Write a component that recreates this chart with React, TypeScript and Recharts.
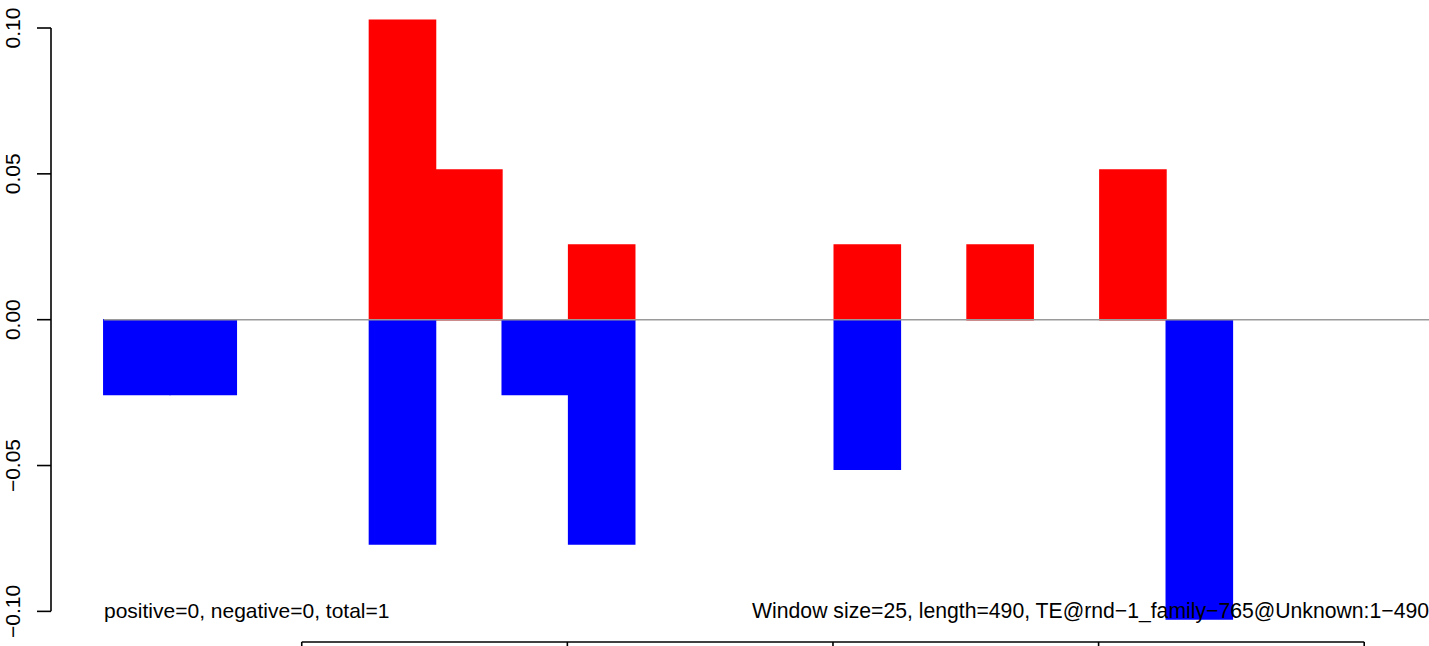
import { BarChart, Bar, XAxis, YAxis, ReferenceLine } from "recharts";

// window centres (bases), one per 25-bp window
const binCentres = [38, 63, 88, 113, 138, 163, 188, 213, 238, 263, 288, 313, 338, 363, 388, 413, 438, 463, 488, 513];
const positive = [0, 0, 0, 0, 0.1026, 0.0513, 0, 0.0256, 0, 0, 0, 0.0256, 0, 0.0256, 0, 0.0513, 0, 0, 0, 0];
const negative = [-0.0256, -0.0256, 0, 0, -0.0769, 0, -0.0256, -0.0769, 0, 0, 0, -0.0513, 0, 0, 0, 0, -0.1026, 0, 0, 0];

const xTicks = [100, 200, 300, 400, 500];
const yTicks = [-0.1, -0.05, 0, 0.05, 0.1];
const yTickLabels = ["\u22120.10", "\u22120.05", "0.00", "0.05", "0.10"];

const leftNote = "positive=0, negative=0, total=1";
const rightNote = "Window size=25, length=490, TE@rnd\u22121_family\u2212765@Unknown:1\u2212490";

const X_MIN = 5.6;
const X_MAX = 545.1;
const Y_MIN = -0.1105;
const Y_MAX = 0.1096;
const BIN_START = 25.5;

const data = binCentres.map((pos, i) => ({ pos, up: positive[i], down: negative[i] }));

const FONT = "'Liberation Sans', Arial, Helvetica, sans-serif";

function YTick({ x, y, payload }: any) {
  const idx = yTicks.findIndex((t) => Math.abs(t - payload.value) < 1e-9);
  return (
    <text
      x={x}
      y={y}
      transform={`rotate(-90, ${x}, ${y})`}
      textAnchor="middle"
      fontSize={21}
      fontFamily={FONT}
      fill="#000"
    >
      {yTickLabels[idx]}
    </text>
  );
}

// x tick labels sit below the visible area in the original, so only the marks are drawn
function XTick() {
  return <g />;
}

export default function App() {
  return (
    <div style={{ position: "absolute", left: 0, top: 0, width: 1429, height: 646, overflow: "hidden", background: "#fff" }}>
      <BarChart
        width={1484}
        height={700}
        data={data}
        stackOffset="sign"
        barCategoryGap={0}
        barGap={0}
        margin={{ top: 0, right: 0, bottom: 0, left: 0 }}
      >
        <ReferenceLine
          segment={[{ x: BIN_START, y: 0 }, { x: X_MAX, y: 0 }]}
          stroke="#9a9a9a"
          strokeWidth={1.6}
          ifOverflow="visible"
        />
        <XAxis
          dataKey="pos"
          type="number"
          domain={[X_MIN, X_MAX]}
          ticks={xTicks}
          allowDataOverflow
          axisLine={false}
          tickLine={{ stroke: "#000", strokeWidth: 1.6 }}
          tickSize={13}
          height={58}
          tick={<XTick />}
        />
        <YAxis
          type="number"
          domain={[Y_MIN, Y_MAX]}
          ticks={yTicks}
          allowDataOverflow
          axisLine={false}
          tickLine={{ stroke: "#000", strokeWidth: 1.6 }}
          tickSize={14}
          tickMargin={17}
          width={51}
          tick={<YTick />}
        />
        <Bar dataKey="up" stackId="s" fill="#ff0000" stroke="#ff0000" strokeWidth={1.6} isAnimationActive={false} />
        <Bar dataKey="down" stackId="s" fill="#0000ff" stroke="#0000ff" strokeWidth={1.6} isAnimationActive={false} />
        <ReferenceLine
          segment={[{ x: X_MIN, y: -0.1 }, { x: X_MIN, y: 0.1 }]}
          stroke="#000"
          strokeWidth={1.6}
          ifOverflow="visible"
        />
        <ReferenceLine
          segment={[{ x: 100, y: Y_MIN }, { x: 500, y: Y_MIN }]}
          stroke="#000"
          strokeWidth={1.6}
          ifOverflow="visible"
        />
      </BarChart>
      <svg width={1429} height={646} style={{ position: "absolute", left: 0, top: 0, pointerEvents: "none" }}>
        <text x={104} y={618} fontSize={21} fontFamily={FONT} fill="#000">
          {leftNote}
        </text>
        <text x={1429} y={618} textAnchor="end" fontSize={21.2} fontFamily={FONT} fill="#000">
          {rightNote}
        </text>
      </svg>
    </div>
  );
}
